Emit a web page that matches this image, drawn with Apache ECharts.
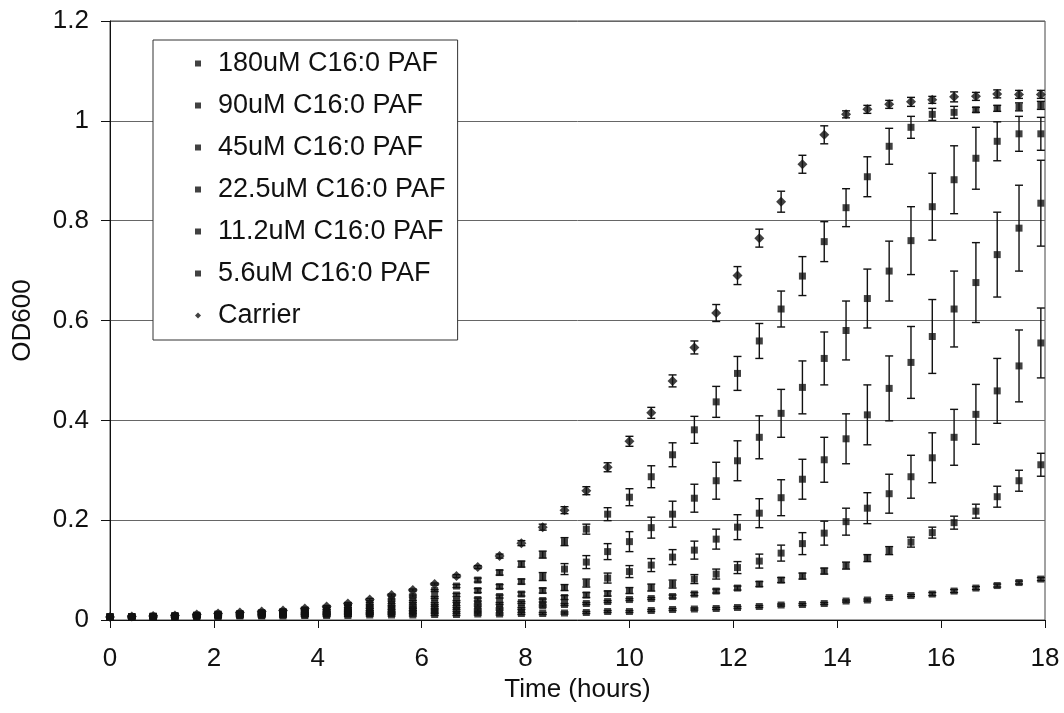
<!DOCTYPE html>
<html>
<head>
<meta charset="utf-8">
<script src="https://cdn.jsdelivr.net/npm/echarts@6/dist/echarts.min.js"></script>
<style>
html, body { margin: 0; background: #fff; }
#chart { width: 1064px; height: 713px; }
</style>
</head>
<body>
<div id="chart"></div>
<script>
// sampling times (hours), one reading every 25 min
const hours = [0, 0.42, 0.83, 1.25, 1.67, 2.08, 2.5, 2.92, 3.33, 3.75, 4.17, 4.58, 5, 5.42, 5.83,
  6.25, 6.67, 7.08, 7.5, 7.92, 8.33, 8.75, 9.17, 9.58, 10, 10.42, 10.83, 11.25, 11.67, 12.08,
  12.5, 12.92, 13.33, 13.75, 14.17, 14.58, 15, 15.42, 15.83, 16.25, 16.67, 17.08, 17.5, 17.92];

// mean OD600
const paf180 = [0.006, 0.006, 0.006, 0.007, 0.007, 0.007, 0.008, 0.008, 0.008, 0.009, 0.009, 0.009, 0.010, 0.010, 0.010,
  0.011, 0.011, 0.012, 0.012, 0.013, 0.013, 0.014, 0.015, 0.017, 0.017, 0.019, 0.021, 0.022, 0.023, 0.025,
  0.027, 0.030, 0.031, 0.033, 0.038, 0.040, 0.045, 0.049, 0.052, 0.058, 0.064, 0.069, 0.075, 0.082];
const paf90 = [0.006, 0.006, 0.006, 0.007, 0.007, 0.008, 0.009, 0.009, 0.010, 0.010, 0.011, 0.012, 0.013, 0.014, 0.016,
  0.018, 0.019, 0.020, 0.022, 0.023, 0.028, 0.031, 0.033, 0.037, 0.041, 0.043, 0.047, 0.052, 0.058, 0.064,
  0.072, 0.080, 0.088, 0.098, 0.109, 0.124, 0.139, 0.156, 0.175, 0.195, 0.218, 0.247, 0.279, 0.311];
const paf45 = [0.006, 0.006, 0.007, 0.007, 0.008, 0.009, 0.010, 0.011, 0.011, 0.012, 0.013, 0.015, 0.016, 0.018, 0.021,
  0.025, 0.027, 0.030, 0.033, 0.035, 0.039, 0.045, 0.050, 0.053, 0.059, 0.065, 0.072, 0.082, 0.092, 0.105,
  0.118, 0.134, 0.153, 0.174, 0.197, 0.224, 0.253, 0.287, 0.325, 0.366, 0.412, 0.459, 0.509, 0.555];
const paf22 = [0.006, 0.006, 0.007, 0.008, 0.009, 0.010, 0.011, 0.012, 0.013, 0.014, 0.016, 0.018, 0.021, 0.024, 0.028,
  0.033, 0.037, 0.041, 0.047, 0.052, 0.059, 0.065, 0.074, 0.084, 0.097, 0.110, 0.126, 0.140, 0.162, 0.186,
  0.214, 0.245, 0.282, 0.321, 0.363, 0.411, 0.464, 0.516, 0.568, 0.623, 0.676, 0.732, 0.785, 0.835];
const paf11 = [0.006, 0.007, 0.007, 0.008, 0.009, 0.011, 0.012, 0.013, 0.015, 0.017, 0.019, 0.022, 0.026, 0.031, 0.037,
  0.045, 0.050, 0.059, 0.067, 0.077, 0.087, 0.102, 0.116, 0.137, 0.157, 0.185, 0.212, 0.244, 0.279, 0.319,
  0.366, 0.414, 0.466, 0.524, 0.580, 0.644, 0.699, 0.760, 0.828, 0.882, 0.925, 0.959, 0.974, 0.974];
const paf5 = [0.006, 0.007, 0.008, 0.009, 0.010, 0.012, 0.013, 0.015, 0.017, 0.020, 0.023, 0.027, 0.033, 0.040, 0.048,
  0.059, 0.068, 0.080, 0.095, 0.112, 0.131, 0.157, 0.182, 0.212, 0.246, 0.287, 0.331, 0.381, 0.437, 0.494,
  0.559, 0.623, 0.689, 0.758, 0.826, 0.888, 0.949, 0.987, 1.013, 1.017, 1.022, 1.025, 1.028, 1.031];
const carrier = [0.006, 0.007, 0.008, 0.009, 0.011, 0.013, 0.015, 0.017, 0.019, 0.023, 0.027, 0.033, 0.041, 0.050, 0.060,
  0.072, 0.088, 0.106, 0.128, 0.154, 0.186, 0.220, 0.259, 0.306, 0.358, 0.415, 0.479, 0.546, 0.615, 0.690,
  0.765, 0.838, 0.913, 0.972, 1.013, 1.023, 1.033, 1.038, 1.042, 1.048, 1.049, 1.054, 1.053, 1.053];

// error bar half widths
const err180 = [0.002, 0.002, 0.002, 0.002, 0.002, 0.002, 0.002, 0.002, 0.002, 0.002, 0.002, 0.002, 0.002, 0.002, 0.002,
  0.002, 0.002, 0.002, 0.002, 0.002, 0.002, 0.002, 0.002, 0.002, 0.002, 0.002, 0.002, 0.002, 0.002, 0.002,
  0.002, 0.002, 0.002, 0.002, 0.002, 0.002, 0.002, 0.002, 0.003, 0.003, 0.003, 0.003, 0.003, 0.003];
const err90 = [0.002, 0.002, 0.002, 0.002, 0.002, 0.002, 0.002, 0.002, 0.002, 0.002, 0.002, 0.002, 0.002, 0.002, 0.002,
  0.002, 0.002, 0.002, 0.002, 0.002, 0.002, 0.002, 0.002, 0.002, 0.002, 0.002, 0.003, 0.003, 0.004, 0.004,
  0.005, 0.005, 0.006, 0.006, 0.007, 0.007, 0.008, 0.010, 0.011, 0.013, 0.014, 0.021, 0.021, 0.023];
const err45 = [0.002, 0.002, 0.002, 0.002, 0.002, 0.002, 0.002, 0.002, 0.002, 0.002, 0.002, 0.002, 0.002, 0.002, 0.002,
  0.002, 0.002, 0.002, 0.002, 0.002, 0.003, 0.004, 0.005, 0.005, 0.006, 0.007, 0.008, 0.009, 0.010, 0.012,
  0.014, 0.016, 0.022, 0.024, 0.027, 0.031, 0.039, 0.043, 0.050, 0.056, 0.060, 0.065, 0.072, 0.070];
const err22 = [0.002, 0.002, 0.002, 0.002, 0.002, 0.002, 0.002, 0.002, 0.002, 0.002, 0.002, 0.002, 0.002, 0.002, 0.002,
  0.002, 0.002, 0.003, 0.003, 0.004, 0.005, 0.006, 0.008, 0.010, 0.012, 0.013, 0.015, 0.018, 0.020, 0.025,
  0.029, 0.036, 0.040, 0.045, 0.050, 0.060, 0.065, 0.072, 0.074, 0.076, 0.080, 0.085, 0.086, 0.086];
const err11 = [0.002, 0.002, 0.002, 0.002, 0.002, 0.002, 0.002, 0.002, 0.002, 0.002, 0.002, 0.002, 0.002, 0.002, 0.002,
  0.002, 0.003, 0.004, 0.004, 0.005, 0.008, 0.011, 0.013, 0.016, 0.020, 0.021, 0.026, 0.028, 0.037, 0.040,
  0.043, 0.048, 0.053, 0.053, 0.059, 0.059, 0.060, 0.068, 0.067, 0.068, 0.062, 0.039, 0.035, 0.033];
const err5 = [0.002, 0.002, 0.002, 0.002, 0.002, 0.002, 0.002, 0.002, 0.002, 0.002, 0.002, 0.002, 0.002, 0.002, 0.002,
  0.002, 0.003, 0.004, 0.005, 0.006, 0.007, 0.008, 0.010, 0.013, 0.017, 0.022, 0.024, 0.027, 0.031, 0.034,
  0.035, 0.036, 0.039, 0.040, 0.038, 0.040, 0.036, 0.022, 0.012, 0.012, 0.005, 0.006, 0.008, 0.008];
const errCarrier = [0.002, 0.002, 0.002, 0.002, 0.002, 0.002, 0.002, 0.002, 0.002, 0.002, 0.002, 0.002, 0.002, 0.002, 0.002,
  0.002, 0.003, 0.003, 0.004, 0.005, 0.006, 0.007, 0.008, 0.009, 0.010, 0.011, 0.012, 0.013, 0.017, 0.018,
  0.018, 0.021, 0.018, 0.018, 0.007, 0.008, 0.008, 0.009, 0.007, 0.010, 0.008, 0.008, 0.008, 0.008];

const squareIcon = "path://M0,0L10,0L10,10L0,10Z";
const diamondIcon = "path://M5,0L10,5L5,10L0,5Z";

const groups = [
  { name: "180uM C16:0 PAF", values: paf180, errs: err180, symbol: "rect", size: 7, icon: squareIcon },
  { name: "90uM C16:0 PAF", values: paf90, errs: err90, symbol: "rect", size: 7, icon: squareIcon },
  { name: "45uM C16:0 PAF", values: paf45, errs: err45, symbol: "rect", size: 7, icon: squareIcon },
  { name: "22.5uM C16:0 PAF", values: paf22, errs: err22, symbol: "rect", size: 7, icon: squareIcon },
  { name: "11.2uM C16:0 PAF", values: paf11, errs: err11, symbol: "rect", size: 7, icon: squareIcon },
  { name: "5.6uM C16:0 PAF", values: paf5, errs: err5, symbol: "rect", size: 7, icon: squareIcon },
  { name: "Carrier", values: carrier, errs: errCarrier, symbol: "diamond", size: 10, icon: diamondIcon }
];

const font = "Liberation Sans, Arial, sans-serif";
const ink = "#111";

function renderBar(params, api) {
  const lo = api.coord([api.value(0), api.value(1)]);
  const hi = api.coord([api.value(0), api.value(2)]);
  const w = 4;
  const st = { stroke: ink, lineWidth: 1.4 };
  return {
    type: "group",
    children: [
      { type: "line", shape: { x1: lo[0], y1: lo[1], x2: hi[0], y2: hi[1] }, style: st },
      { type: "line", shape: { x1: lo[0] - w, y1: lo[1], x2: lo[0] + w, y2: lo[1] }, style: st },
      { type: "line", shape: { x1: hi[0] - w, y1: hi[1], x2: hi[0] + w, y2: hi[1] }, style: st }
    ]
  };
}

let series = [];
groups.forEach(g => {
  series.push({
    name: g.name,
    type: "scatter",
    symbol: g.symbol,
    symbolSize: g.size,
    itemStyle: { color: ink },
    z: 4,
    data: hours.map((t, i) => [t, g.values[i]])
  });
});
groups.forEach(g => {
  series.push({
    type: "custom",
    silent: true,
    z: 3,
    encode: { x: 0, y: [1, 2] },
    renderItem: renderBar,
    data: hours.map((t, i) => [t, g.values[i] - g.errs[i], g.values[i] + g.errs[i]])
  });
});

let myChart = echarts.init(document.getElementById("chart"), null, { renderer: "canvas" });
myChart.setOption({
  animation: false,
  backgroundColor: "#fff",
  textStyle: { fontFamily: font },
  grid: {
    left: 110,
    right: 19,
    top: 21,
    bottom: 93,
    show: true,
    borderColor: "#444",
    borderWidth: 1
  },
  legend: {
    data: groups.map(g => ({ name: g.name, icon: g.icon })),
    orient: "vertical",
    left: 153,
    top: 40,
    padding: [10, 12, 11, 42],
    itemWidth: 30,
    itemHeight: 6,
    itemGap: 15,
    symbolKeepAspect: true,
    backgroundColor: "#fff",
    borderColor: "#333",
    borderWidth: 1,
    borderRadius: 0,
    textStyle: { fontSize: 27, lineHeight: 27, color: ink, fontFamily: font }
  },
  xAxis: {
    type: "value",
    min: 0,
    max: 18,
    interval: 2,
    name: "Time (hours)",
    nameLocation: "middle",
    nameGap: 54,
    nameTextStyle: { fontSize: 26, color: ink, fontFamily: font },
    axisLine: { lineStyle: { color: ink, width: 1 } },
    axisTick: { show: true, inside: false, length: 8, lineStyle: { color: ink } },
    axisLabel: { fontSize: 26, color: ink, margin: 26, fontFamily: font },
    splitLine: { show: false }
  },
  yAxis: {
    type: "value",
    min: 0,
    max: 1.2,
    interval: 0.2,
    name: "OD600",
    nameLocation: "middle",
    nameGap: 74,
    nameTextStyle: { fontSize: 26, color: ink, fontFamily: font },
    axisLine: { show: true, lineStyle: { color: ink, width: 1 } },
    axisTick: { show: true, inside: false, length: 9, lineStyle: { color: ink } },
    axisLabel: { fontSize: 26, color: ink, margin: 21, fontFamily: font },
    splitLine: { show: true, lineStyle: { color: "#666", width: 1 } }
  },
  series: series
});
</script>
</body>
</html>
